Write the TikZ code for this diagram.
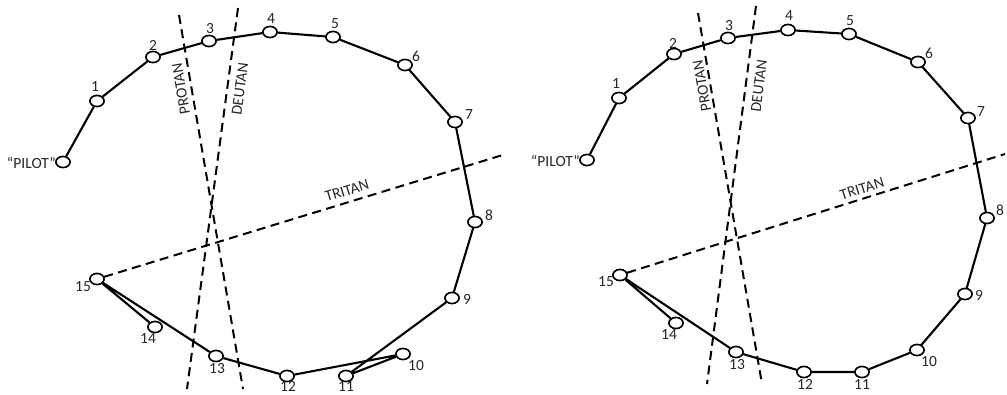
\documentclass[tikz,border=0pt]{standalone}
\usepackage{fontspec}
\setmainfont{Carlito}
\usetikzlibrary{shapes.geometric}
\begin{document}
\begin{tikzpicture}[x=1pt,y=-1pt,
  capnode/.style={draw,ellipse,fill=white,line width=1.5pt,minimum width=14pt,minimum height=11pt,inner sep=0pt},
  num/.style={font=\fontsize{15.5}{15.5}\selectfont,text=black!85,inner sep=0pt},
  seq/.style={line width=2.1pt,line join=round},
  axis/.style={line width=2pt,dash pattern=on 9pt off 5.5pt},
  axlab/.style={font=\fontsize{15.5}{15.5}\selectfont,text=black!85,inner sep=0pt}]
\useasboundingbox (0,0) rectangle (1007,394);
% ---------- left panel ----------
\coordinate (LPt) at (179,15); \coordinate (LPb) at (243,389);
\coordinate (LDt) at (238,8);  \coordinate (LDb) at (187,389);
\coordinate (LTe) at (506,154);
\node[capnode] (L0) at (63,162) {};
\node[capnode] (L1) at (97,101) {};
\node[capnode] (L2) at (153,57) {};
\node[capnode] (L3) at (209,41) {};
\node[capnode] (L4) at (270,32) {};
\node[capnode] (L5) at (333,37) {};
\node[capnode] (L6) at (405,65) {};
\node[capnode] (L7) at (455,122) {};
\node[capnode] (L8) at (475,222) {};
\node[capnode] (L9) at (452,298) {};
\node[capnode] (L10) at (403,354) {};
\node[capnode] (L11) at (346,376) {};
\node[capnode] (L12) at (287,376) {};
\node[capnode] (L13) at (216,356) {};
\node[capnode] (L14) at (155,327) {};
\node[capnode] (L15) at (97,279) {};
\draw[axis] (LPt) -- (LPb);
\draw[axis] (LDt) -- (LDb);
\draw[axis] (L15) -- (LTe);
\draw[seq] (L0) -- (L1) -- (L2) -- (L3) -- (L4) -- (L5) -- (L6) -- (L7) -- (L8) -- (L9) -- (L11) -- (L10) -- (L12) -- (L13) -- (L15) -- (L14);
\foreach \i in {0,...,15} {\node[capnode] at (L\i) {};}
\node[num,anchor=east] (Lp) at (56,163) {“PILOT”};
\node[num] (Ln1) at (95,87) {1};
\node[num] (Ln2) at (153,45) {2};
\node[num] (Ln3) at (210,29) {3};
\node[num] (Ln4) at (271,19) {4};
\node[num] (Ln5) at (335,24) {5};
\node[num] (Ln6) at (416,56) {6};
\node[num] (Ln7) at (469,115) {7};
\node[num] (Ln8) at (489,215) {8};
\node[num] (Ln9) at (467,299) {9};
\node[num] (Ln10) at (416,366) {10};
\node[num] (Ln11) at (346,386.5) {11};
\node[num] (Ln12) at (288,386.5) {12};
\node[num] (Ln13) at (217,369) {13};
\node[num] (Ln14) at (148,339) {14};
\node[num] (Ln15) at (83,287) {15};
\node[axlab,rotate=99.7] (LPl) at (181,89) {PROTAN};
\node[axlab,rotate=82.3] (LDl) at (240,89) {DEUTAN};
\node[axlab,rotate=17] (LTl) at (347,190.5) {TRITAN};
% ---------- right panel ----------
\coordinate (RPt) at (698,13); \coordinate (RPb) at (762,384);
\coordinate (RDt) at (756,6);  \coordinate (RDb) at (707,384);
\coordinate (RTe) at (1005,154);
\node[capnode] (R0) at (587,160) {};
\node[capnode] (R1) at (619,98) {};
\node[capnode] (R2) at (674,54) {};
\node[capnode] (R3) at (728,38) {};
\node[capnode] (R4) at (788,30) {};
\node[capnode] (R5) at (849,34) {};
\node[capnode] (R6) at (918,62) {};
\node[capnode] (R7) at (968,118) {};
\node[capnode] (R8) at (987,218) {};
\node[capnode] (R9) at (965,294) {};
\node[capnode] (R10) at (917,350) {};
\node[capnode] (R11) at (862,372) {};
\node[capnode] (R12) at (804,372) {};
\node[capnode] (R13) at (736,352) {};
\node[capnode] (R14) at (676,323) {};
\node[capnode] (R15) at (620,275) {};
\draw[axis] (RPt) -- (RPb);
\draw[axis] (RDt) -- (RDb);
\draw[axis] (R15) -- (RTe);
\draw[seq] (R0) -- (R1) -- (R2) -- (R3) -- (R4) -- (R5) -- (R6) -- (R7) -- (R8) -- (R9) -- (R10) -- (R11) -- (R12) -- (R13) -- (R15) -- (R14);
\foreach \i in {0,...,15} {\node[capnode] at (R\i) {};}
\node[num,anchor=east] (Rp) at (580,161) {“PILOT”};
\node[num] (Rn1) at (616,84) {1};
\node[num] (Rn2) at (673,43) {2};
\node[num] (Rn3) at (729,26) {3};
\node[num] (Rn4) at (789,16) {4};
\node[num] (Rn5) at (850,21) {5};
\node[num] (Rn6) at (929,53) {6};
\node[num] (Rn7) at (981,112) {7};
\node[num] (Rn8) at (1000,210) {8};
\node[num] (Rn9) at (979,295) {9};
\node[num] (Rn10) at (929,362) {10};
\node[num] (Rn11) at (862,385) {11};
\node[num] (Rn12) at (805,384) {12};
\node[num] (Rn13) at (737,365) {13};
\node[num] (Rn14) at (669,335) {14};
\node[num] (Rn15) at (606,282) {15};
\node[axlab,rotate=99.8] (RPl) at (702,86) {PROTAN};
\node[axlab,rotate=82.6] (RDl) at (759,86) {DEUTAN};
\node[axlab,rotate=17.4] (RTl) at (862,188.5) {TRITAN};
\end{tikzpicture}
\end{document}
